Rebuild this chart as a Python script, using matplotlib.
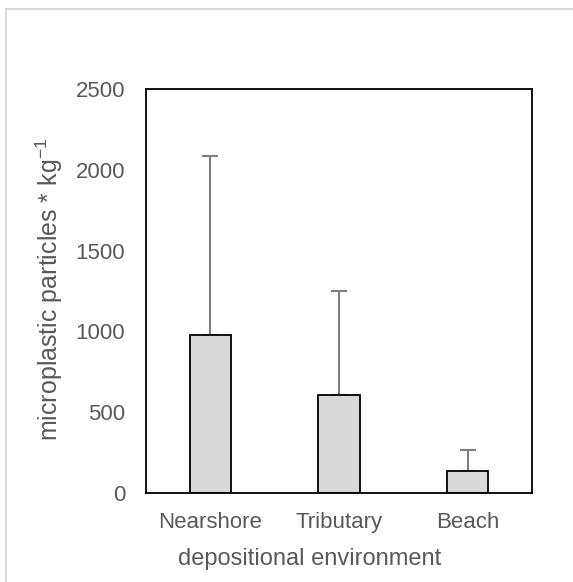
import matplotlib
matplotlib.use("Agg")
import matplotlib.pyplot as plt
from matplotlib.patches import Rectangle
import numpy as np

# mean particle counts per kg and upper standard deviation
environments = ["Nearshore", "Tributary", "Beach"]
means = [978, 606, 136]
upper_err = [1107, 644, 130]

plt.rcParams["font.family"] = ["Liberation Sans", "DejaVu Sans"]
plt.rcParams["mathtext.default"] = "regular"
text_grey = "#595959"

fig = plt.figure(figsize=(5.73, 5.82), dpi=100)
ax = fig.add_axes([146 / 573, 1 - 493 / 582, 386 / 573, 404 / 582])

x = np.arange(len(environments))
ax.bar(x, means, width=0.32, color="#d9d9d9", edgecolor="black", linewidth=1.3, zorder=2)
ax.errorbar(x, means, yerr=[np.zeros(len(means)), upper_err], fmt="none",
            ecolor="#7f7f7f", elinewidth=1.5, capsize=6, capthick=1.5, zorder=1)

ax.set_xlim(-0.5, 2.5)
ax.set_ylim(0, 2500)
ax.set_yticks(np.arange(0, 2501, 500))
ax.set_xticks(x)
ax.set_xticklabels(environments)
ax.tick_params(axis="both", length=0, labelsize=16, labelcolor=text_grey)
ax.tick_params(axis="y", pad=15)
ax.tick_params(axis="x", pad=14)

for side in ax.spines.values():
    side.set_linewidth(1.3)
    side.set_color("black")

ax.set_xlabel("depositional environment", fontsize=17, color=text_grey)
ax.xaxis.set_label_coords(0.425, -0.135)
ax.set_ylabel("microplastic particles * kg$^{-1}$", fontsize=18, color=text_grey)
ax.yaxis.set_label_coords(-0.21, 0.505)

# chart area outline
fig.patches.append(Rectangle((6 / 573, -0.1), 1.2, 1 - 9 / 582 + 0.1,
                             transform=fig.transFigure, fill=False,
                             edgecolor="#d9d9d9", linewidth=1.5))

fig.savefig("out.png", dpi=100)
